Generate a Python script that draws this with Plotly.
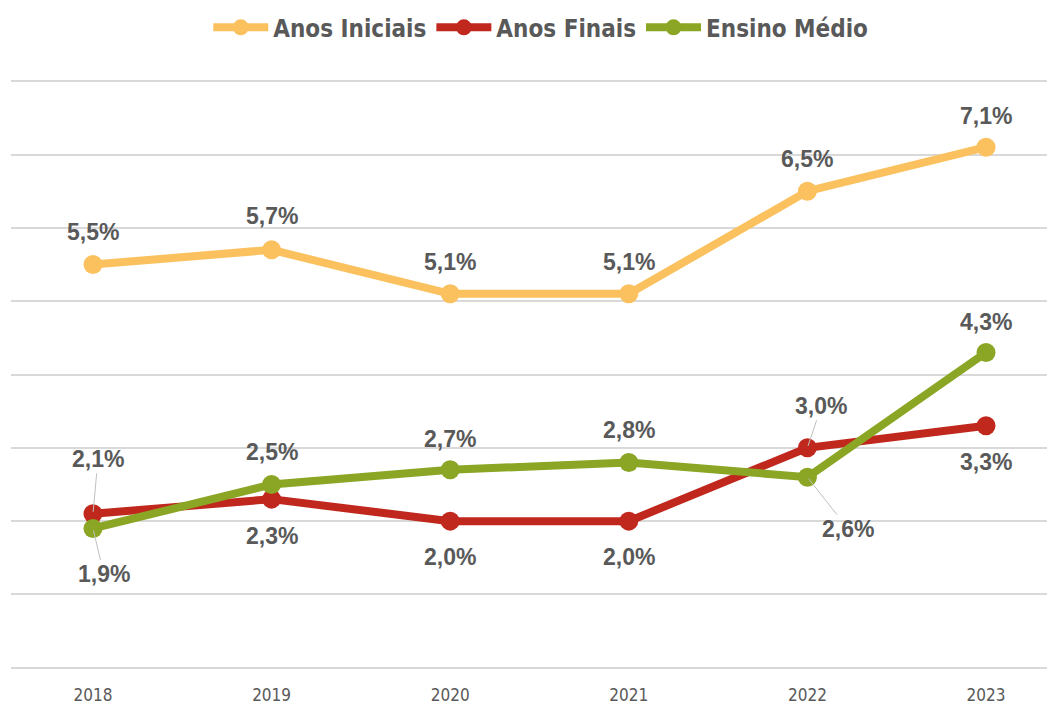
import plotly.graph_objects as go

years = ["2018", "2019", "2020", "2021", "2022", "2023"]
anos_iniciais = [5.5, 5.7, 5.1, 5.1, 6.5, 7.1]
anos_finais = [2.1, 2.3, 2.0, 2.0, 3.0, 3.3]
ensino_medio = [1.9, 2.5, 2.7, 2.8, 2.6, 4.3]

series = [
    ("Anos Iniciais", anos_iniciais, "#FBC15E"),
    ("Anos Finais", anos_finais, "#C0271D"),
    ("Ensino Médio", ensino_medio, "#8AA624"),
]

# label placement (pixel offsets: ax, ay) and whether a leader line is drawn
label_offsets = {
    "Anos Iniciais": [(0, -33), (0, -34), (0, -32), (0, -32), (0, -32), (0, -31)],
    "Anos Finais": [(5, -55), (0, 37), (0, 36), (0, 36), (14, -42), (0, 36)],
    "Ensino Médio": [(11, 46), (0, -32), (0, -31), (0, -32), (41, 52), (0, -31)],
}
leader = {
    "Anos Finais": [True, False, False, False, True, False],
    "Ensino Médio": [True, False, False, False, True, False],
}

LABEL_FONT = dict(family="Liberation Sans, Arial", size=23, color="#595959")

idx = list(range(len(years)))
fig = go.Figure()
annotations = []
for name, vals, color in series:
    fig.add_trace(go.Scatter(
        x=idx, y=vals, name=name, mode="lines+markers",
        line=dict(color=color, width=8),
        marker=dict(color=color, size=19),
    ))
    for i, v in enumerate(vals):
        ax, ay = label_offsets[name][i]
        txt = "<b>" + f"{v:.1f}%".replace(".", ",") + "</b>"
        if leader.get(name, [False] * 6)[i]:
            annotations.append(dict(
                x=i, y=v, xref="x", yref="y", text=txt, showarrow=True,
                ax=ax, ay=ay, arrowhead=0, arrowwidth=1, arrowcolor="#BFBFBF",
                standoff=2, startstandoff=0, font=LABEL_FONT,
            ))
        else:
            annotations.append(dict(
                x=i, y=v, xref="x", yref="y", text=txt, showarrow=False,
                xshift=ax, yshift=-ay, font=LABEL_FONT,
            ))

fig.update_layout(
    width=1055, height=706,
    margin=dict(l=3, r=0, t=70.8, b=43.8, autoexpand=False),
    paper_bgcolor="white", plot_bgcolor="white",
    showlegend=True,
    legend=dict(
        orientation="h", x=0.505, xanchor="center", y=0.972, yanchor="middle",
        yref="container", xref="container",
        font=dict(family="DejaVu Sans Condensed, Arial", size=24, color="#595959", weight="bold"),
        itemwidth=55,
    ),
    annotations=annotations,
    xaxis=dict(
        range=[-0.459, 5.431], tickvals=idx, ticktext=years,
        showgrid=False, zeroline=False, showline=False, ticks="", automargin=False,
        ticklabelstandoff=13,
        tickfont=dict(family="DejaVu Sans Condensed, Arial", size=17, color="#595959"),
    ),
    yaxis=dict(
        range=[-0.03, 8.03], tickvals=[0, 1, 2, 3, 4, 5, 6, 7, 8], showticklabels=False, showgrid=True,
        gridcolor="#D9D9D9", gridwidth=1.5, zeroline=False, showline=False, ticks="", automargin=False,
    ),
)

fig.write_html("out.html")
